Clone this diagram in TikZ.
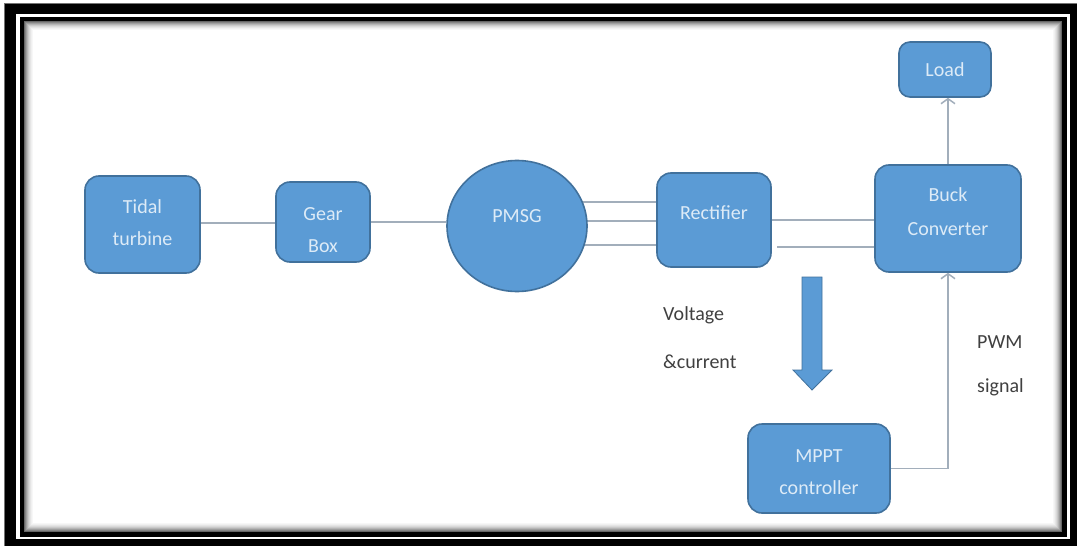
\documentclass[tikz,border=0pt]{standalone}
\usepackage{fontspec}
\setmainfont{Carlito}
\usetikzlibrary{arrows.meta,calc,shapes.geometric}
\definecolor{boxfill}{HTML}{5B9BD5}
\definecolor{boxborder}{HTML}{41719C}
\definecolor{conncol}{HTML}{A2AEBB}
\definecolor{boxtext}{HTML}{DDEBF7}
\definecolor{labelcol}{HTML}{404040}
\newcommand{\txtshift}[2]{\raisebox{#1}[\height][\depth]{\begin{tabular}{@{}c@{}}#2\end{tabular}}}
\tikzset{
  blockbox/.style={draw=boxborder, fill=boxfill, line width=1.6pt, rounded corners=14pt,
    text=boxtext, align=center, font=\fontsize{20}{32}\selectfont, inner sep=0pt},
  conn/.style={draw=conncol, line width=1.8pt},
  openarrow/.style={-{Straight Barb[length=5pt,width=14pt,line width=1.5pt]}},
  lbl/.style={text=labelcol, font=\fontsize{20}{24}\selectfont, inner sep=0pt, anchor=base west}
}
\begin{document}
\begin{tikzpicture}[x=1pt,y=-1pt]
\useasboundingbox (0,0) rectangle (1077,546);
% frame
\fill[white] (0,0) rectangle (1077,546);
\fill[black!55] (4,3) rectangle (1077,546);
\fill[black] (5,4) rectangle (1077,546);
\fill[white] (16,14) rectangle (1070,539);
\fill[black] (19.5,17) rectangle (1067,537);
\fill[white] (24,21) rectangle (1062,532);
\foreach \i/\g in {0/60,1/48,2/38,3/29,4/21,5/15,6/10,7/6,8/3}{
  \draw[black!\g, line width=1pt] (24.5+\i,21.5+\i) rectangle (1061.5-\i,531.5-\i);
}
% nodes
\node[blockbox, minimum width=115pt, minimum height=97pt] (tidal) at (142.5,224.5) {\txtshift{1pt}{Tidal\\turbine}};
\node[blockbox, minimum width=94pt, minimum height=80pt] (gear) at (323,222) {\txtshift{-8pt}{Gear\\Box}};
\node[blockbox, minimum width=114pt, minimum height=94pt] (rect) at (714,220) {\txtshift{7pt}{Rectifier}};
\node[blockbox, minimum width=146pt, minimum height=107pt] (buck) at (948,218.5) {\txtshift{6pt}{Buck\\[2pt]Converter}};
\node[blockbox, minimum width=92pt, minimum height=55pt, rounded corners=11pt] (load) at (945,69.5) {Load};
\node[blockbox, minimum width=142pt, minimum height=89pt] (mppt) at (819,468.5) {\txtshift{-4pt}{MPPT\\controller}};
\coordinate (pmsgc) at (517,226);
\coordinate (lowstart) at (777,247);
% three-phase lines (behind PMSG)
\draw[conn] ($(rect.west)+(0,-18)$) -- (pmsgc |- {$(rect.west)+(0,-18)$});
\draw[conn] ($(rect.west)+(0,1)$) -- (pmsgc |- {$(rect.west)+(0,1)$});
\draw[conn] ($(rect.west)+(0,25)$) -- (pmsgc |- {$(rect.west)+(0,25)$});
\node[draw=boxborder, fill=boxfill, line width=1.6pt, ellipse, minimum width=140pt, minimum height=131pt,
  text=boxtext, font=\fontsize{20}{24}\selectfont, inner sep=0pt] (pmsg) at (pmsgc) {\raisebox{9.5pt}[\height][\depth]{PMSG}};
% connectors
\draw[conn] (tidal.east |- 0,223) -- (gear.west |- 0,223);
\draw[conn] (gear.east) -- (pmsg.west |- gear.east);
\draw[conn] (rect.east |- 0,220) -- (buck.west |- 0,220);
\draw[conn] (lowstart) -- (buck.west |- lowstart);
\draw[conn, openarrow] (buck.north) -- (buck.north |- load.south);
\draw[conn, openarrow] (mppt.east) -| (buck.south);
% big arrow
\draw[fill=boxfill, draw=boxborder, line width=0.8pt]
  (802,277) -- (822,277) -- (822,370) -- (832,370) -- (812,390) -- (793,370) -- (802,370) -- cycle;
% labels
\node[lbl] (v1) at (663,320) {Voltage};
\node[lbl] (v2) at (663,368) {\&current};
\node[lbl] (p1) at (977,348) {PWM};
\node[lbl] (p2) at (977,392) {signal};
\end{tikzpicture}
\end{document}
